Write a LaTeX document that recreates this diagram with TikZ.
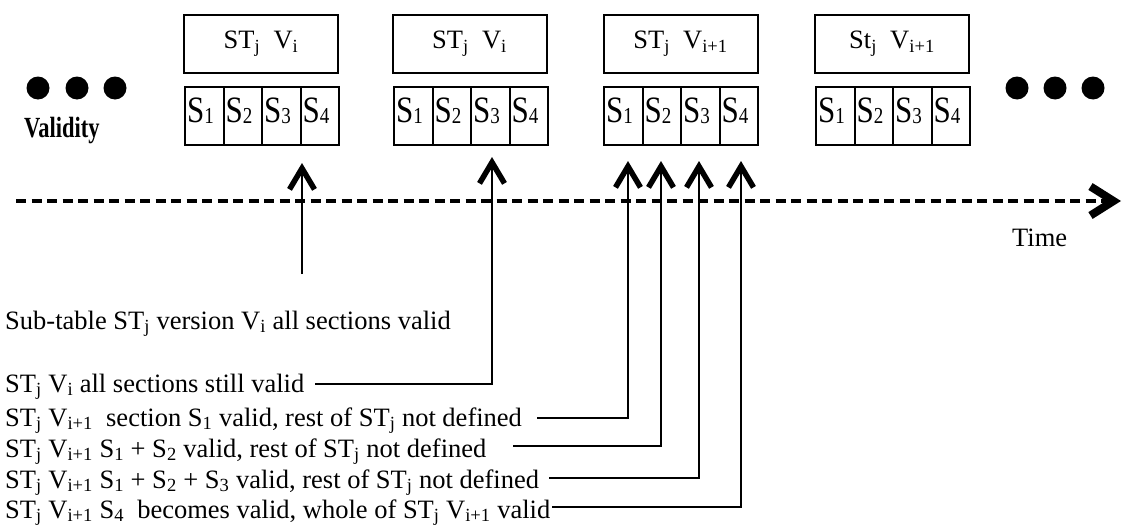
\documentclass[tikz,border=0pt]{standalone}
\usepackage{fontspec}
\usepackage{graphicx}
\setmainfont{Liberation Serif}
\usetikzlibrary{arrows.meta}
\newcommand{\sbs}[1]{\textsubscript{#1}}
\newcommand{\seclbl}[1]{\scalebox{1}[1.2]{\fontsize{31}{31}\selectfont S\raisebox{-1pt}{\fontsize{19}{19}\selectfont #1}}}
\begin{document}
\begin{tikzpicture}[x=1pt,y=-1pt,
  hdr/.style={draw,line width=2pt,minimum width=154pt,minimum height=58pt,inner sep=0pt,font=\fontsize{26.5}{31}\selectfont},
  cell/.style={draw,line width=2pt,minimum width=38.5pt,minimum height=58pt,inner sep=0pt,anchor=north west},
  sec/.style={anchor=base west,inner sep=0pt},
  lbl/.style={anchor=base west,inner sep=0pt,font=\fontsize{26.5}{31}\selectfont},
  arr/.style={line width=2.5pt,-{Straight Barb[length=21pt,width=25pt,line width=5.5pt]}},
  dot/.style={circle,fill,inner sep=0pt,minimum size=23pt}]
\useasboundingbox (0,0) rectangle (1122,525);

% header boxes
\node[hdr] (h1) at (261,44) {ST\sbs{j}~~V\sbs{i}};
\node[hdr] (h2) at (469.5,44) {ST\sbs{j}~~V\sbs{i}};
\node[hdr] (h3) at (680.5,44) {ST\sbs{j}~~V\sbs{i+1}};
\node[hdr] (h4) at (892,44) {St\sbs{j}~~V\sbs{i+1}};

% section cells
\foreach \b/\x in {1/184,2/393,3/603,4/815}{
  \foreach \m in {1,2,3,4}{
    \node[cell] (c\b\m) at ({\x+(\m-1)*38.5},86) {};
    \node[sec] (s\b\m) at ({\x+(\m-1)*38.5+3},122) {\seclbl{\m}};
  }
}

% dots
\node[dot] (dl1) at (38,88) {};
\node[dot] (dl2) at (77,88) {};
\node[dot] (dl3) at (115,88) {};
\node[dot] (dr1) at (1017,88) {};
\node[dot] (dr2) at (1055,88) {};
\node[dot] (dr3) at (1093,88) {};

\node[anchor=base west,inner sep=0pt,font=\fontsize{22.5}{26}\selectfont\bfseries] (val) at (24,137) {\scalebox{1}[1.3]{Validity}};

% time axis
\coordinate (ax0) at (16,201);
\coordinate (ax1) at (1121,201);
\draw[line width=3.5pt,dash pattern=on 10pt off 5.5pt,-{Straight Barb[length=23pt,width=29pt,line width=8pt]}] (ax0) -- (ax1);
\node[lbl] (time) at (1012,246) {Time};

% texts
\node[lbl] (t1) at (5,329) {Sub-table ST\sbs{j} version V\sbs{i} all sections valid};
\node[lbl] (t2) at (5,392) {ST\sbs{j} V\sbs{i} all sections still valid};
\node[lbl] (t3) at (5,426) {ST\sbs{j} V\sbs{i+1}~ section S\sbs{1} valid, rest of ST\sbs{j} not defined};
\node[lbl] (t4) at (5,457) {ST\sbs{j} V\sbs{i+1} S\sbs{1} + S\sbs{2} valid, rest of ST\sbs{j} not defined};
\node[lbl] (t5) at (5,488) {ST\sbs{j} V\sbs{i+1} S\sbs{1} + S\sbs{2} + S\sbs{3} valid, rest of ST\sbs{j} not defined};
\node[lbl] (t6) at (5,518) {ST\sbs{j} V\sbs{i+1} S\sbs{4}~ becomes valid, whole of ST\sbs{j} V\sbs{i+1} valid};

% arrows
\coordinate (a1s) at (302,274); \coordinate (a1) at (302,163);
\coordinate (l2) at (315,384);  \coordinate (a2) at (492,157);
\coordinate (l3) at (537,418);  \coordinate (a3) at (628,161);
\coordinate (l4) at (513,446);  \coordinate (a4) at (661,161);
\coordinate (l5) at (549,478);  \coordinate (a5) at (699,161);
\coordinate (l6) at (552,507);  \coordinate (a6) at (741,161);
\draw[arr] (a1s) -- (a1);
\draw[arr] (l2) -| (a2);
\draw[arr] (l3) -| (a3);
\draw[arr] (l4) -| (a4);
\draw[arr] (l5) -| (a5);
\draw[arr] (l6) -| (a6);
\end{tikzpicture}
\end{document}
